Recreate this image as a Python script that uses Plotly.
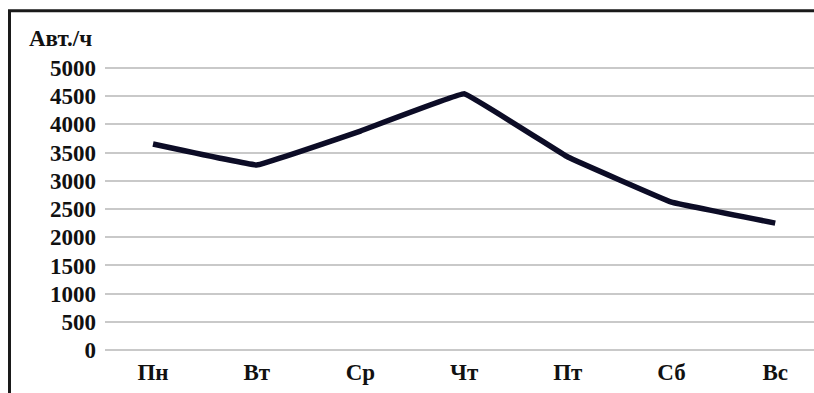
import plotly.graph_objects as go

# Weekly traffic intensity, vehicles per hour
days = ["Пн", "Вт", "Ср", "Чт", "Пт", "Сб", "Вс"]
vehicles_per_hour = [3650, 3280, 3880, 4540, 3420, 2620, 2250]
y_ticks = [0, 500, 1000, 1500, 2000, 2500, 3000, 3500, 4000, 4500, 5000]
unit_label = "Авт./ч"

W, H = 814, 393
L, R, T, B = 105, 0, 65.2, 40.2
plot_w = W - L - R
plot_h = H - T - B

def px_x(px):
    return (px - L) / plot_w

def px_y(py):
    return (H - B - py) / plot_h

font_serif = dict(family="Times New Roman, Liberation Serif, serif", size=23, color="#111111")

def bold(s):
    return f"<b>{s}</b>"

fig = go.Figure()
fig.add_trace(go.Scatter(
    x=list(range(len(days))),
    y=vehicles_per_hour,
    mode="lines",
    line=dict(color="#0c0c26", width=5.5, shape="spline", smoothing=0.15),
    hoverinfo="skip",
    showlegend=False,
))

fig.update_layout(
    width=W, height=H,
    margin=dict(l=L, r=R, t=T, b=B, pad=0),
    paper_bgcolor="white",
    plot_bgcolor="white",
    font=font_serif,
    xaxis=dict(
        range=[-0.463, 6.374],
        tickmode="array",
        tickvals=list(range(len(days))),
        ticktext=[bold(d) for d in days],
        showgrid=False,
        zeroline=False,
        showline=False,
        ticks="",
        ticklabelstandoff=3,
        tickfont=font_serif,
        fixedrange=True,
    ),
    yaxis=dict(
        range=[-50, 5050],
        tickmode="array",
        tickvals=y_ticks,
        ticktext=[bold(v) for v in y_ticks],
        showgrid=True,
        gridcolor="#c9c9c9",
        gridwidth=2,
        zeroline=False,
        showline=False,
        ticks="",
        ticklabelstandoff=8,
        tickfont=font_serif,
        fixedrange=True,
    ),
    annotations=[dict(
        text=bold(unit_label),
        xref="paper", yref="paper",
        x=px_x(27), y=px_y(39),
        xanchor="left", yanchor="middle",
        showarrow=False,
        font=font_serif,
    )],
    shapes=[dict(
        type="path",
        xref="paper", yref="paper",
        path=(f"M {px_x(9.5)} {px_y(H + 5)} L {px_x(9.5)} {px_y(11)} "
              f"L {px_x(W + 5)} {px_y(11)}"),
        line=dict(color="#1a1a1a", width=3),
        layer="above",
    )],
)

fig.write_html("out.html")
